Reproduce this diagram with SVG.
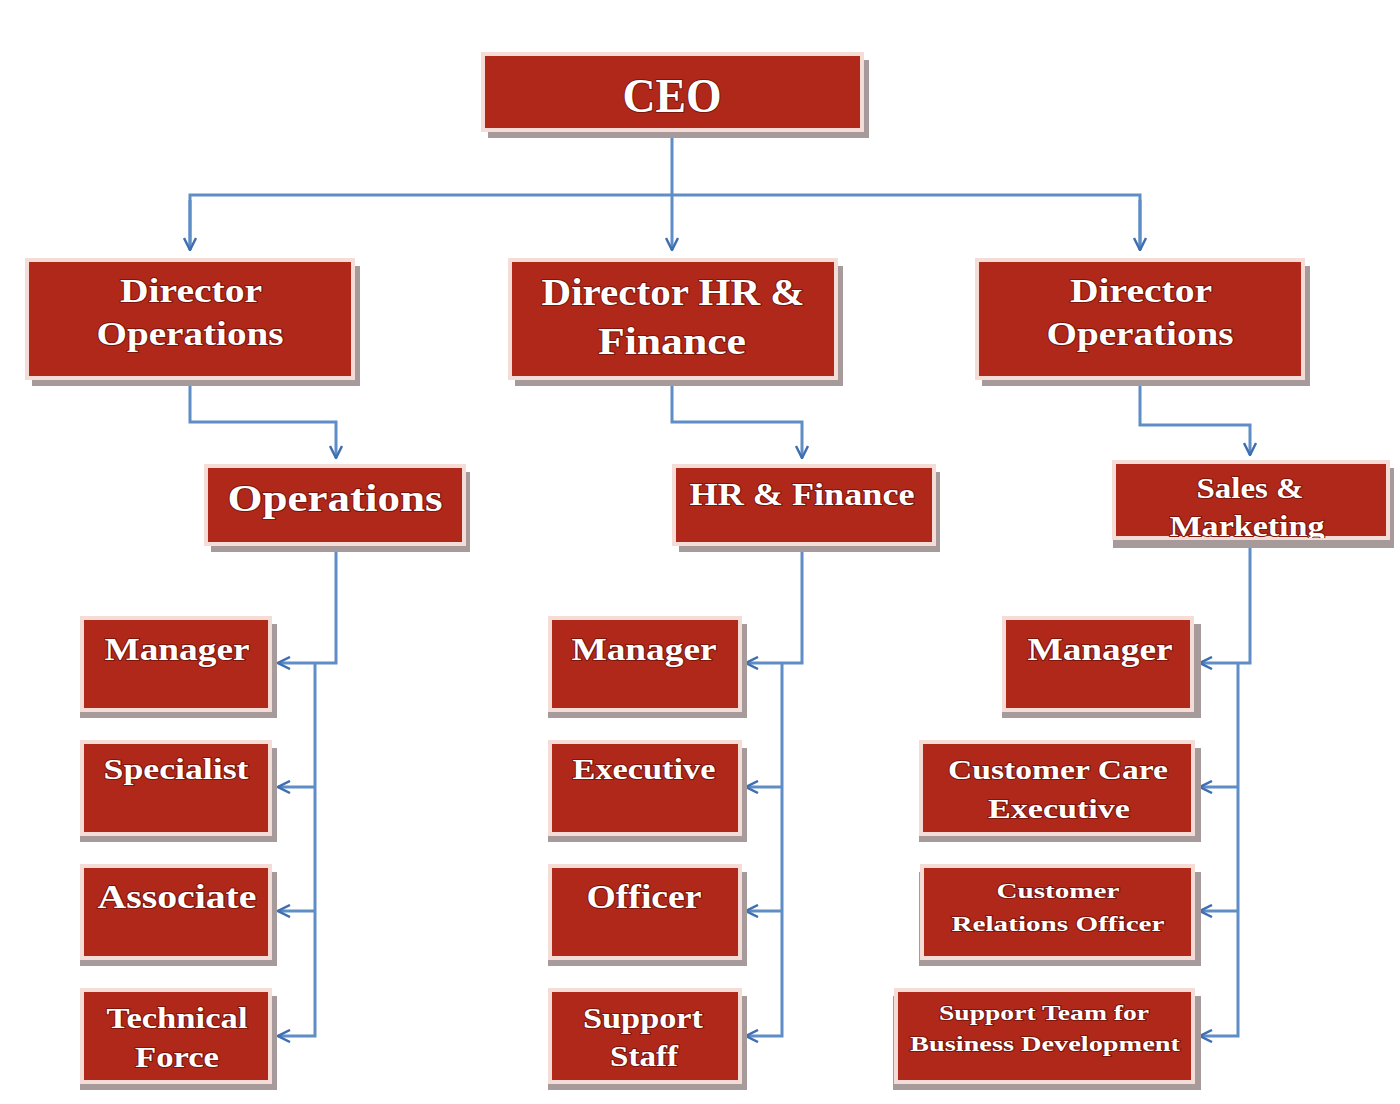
<svg xmlns="http://www.w3.org/2000/svg" width="1400" height="1104" viewBox="0 0 1400 1104">
<defs>
<style>
.sh{fill:#a79a9a;}
.bx{fill:#B0281A;stroke:#f6dcd6;stroke-width:4;}
.t{font-family:"Liberation Serif","DejaVu Serif",serif;font-weight:bold;fill:#ffffff;text-anchor:middle;stroke:#7a160c;stroke-width:2;paint-order:stroke;}
.c{fill:none;stroke:#5f8ec6;stroke-width:3;}
</style>
<marker id="ar" viewBox="0 0 14 14" refX="13" refY="7" markerWidth="14" markerHeight="14" markerUnits="userSpaceOnUse" orient="auto">
<path d="M1,1 L13,7 L1,13" fill="none" stroke="#3f6fb0" stroke-width="2.5"/>
</marker>
<clipPath id="smclip"><rect x="1110" y="458" width="290" height="80"/></clipPath>
</defs>
<rect width="1400" height="1104" fill="#ffffff"/>

<g id="connectors">
<path class="c" d="M672,132 L672,250" marker-end="url(#ar)"/>
<path class="c" d="M190,250 L190,195 L1140,195 L1140,250" />
<path class="c" d="M190,200 L190,250" marker-end="url(#ar)"/>
<path class="c" d="M1140,200 L1140,250" marker-end="url(#ar)"/>
<path class="c" d="M190,380 L190,422 L336,422 L336,458" marker-end="url(#ar)"/>
<path class="c" d="M672,380 L672,422 L802,422 L802,458" marker-end="url(#ar)"/>
<path class="c" d="M1140,380 L1140,425 L1250,425 L1250,455" marker-end="url(#ar)"/>

<path class="c" d="M336,546 L336,663 L278,663" marker-end="url(#ar)"/>
<path class="c" d="M315,663 L315,1036 L278,1036" marker-end="url(#ar)"/>
<path class="c" d="M315,787 L278,787" marker-end="url(#ar)"/>
<path class="c" d="M315,911 L278,911" marker-end="url(#ar)"/>

<path class="c" d="M802,546 L802,663 L746,663" marker-end="url(#ar)"/>
<path class="c" d="M782,663 L782,1036 L746,1036" marker-end="url(#ar)"/>
<path class="c" d="M782,787 L746,787" marker-end="url(#ar)"/>
<path class="c" d="M782,911 L746,911" marker-end="url(#ar)"/>

<path class="c" d="M1250,542 L1250,663 L1200,663" marker-end="url(#ar)"/>
<path class="c" d="M1238,663 L1238,1036 L1200,1036" marker-end="url(#ar)"/>
<path class="c" d="M1238,787 L1200,787" marker-end="url(#ar)"/>
<path class="c" d="M1238,911 L1200,911" marker-end="url(#ar)"/>
</g>

<g id="ceo">
<rect class="sh" x="488" y="60" width="381" height="78"/>
<rect class="bx" x="483" y="54" width="379" height="76"/>
<text class="t" x="672" y="112" font-size="48" textLength="99" lengthAdjust="spacingAndGlyphs">CEO</text>
</g>

<g id="dir-ops-left">
<rect class="sh" x="32" y="266" width="328" height="120"/>
<rect class="bx" x="27" y="260" width="326" height="118"/>
<text class="t" x="191" y="302" font-size="34" textLength="142" lengthAdjust="spacingAndGlyphs">Director</text>
<text class="t" x="190" y="345" font-size="34" textLength="187" lengthAdjust="spacingAndGlyphs">Operations</text>
</g>

<g id="dir-hr">
<rect class="sh" x="515" y="266" width="328" height="120"/>
<rect class="bx" x="510" y="260" width="326" height="118"/>
<text class="t" x="673" y="305" font-size="38" textLength="263" lengthAdjust="spacingAndGlyphs">Director HR &amp;</text>
<text class="t" x="672" y="354" font-size="38" textLength="148" lengthAdjust="spacingAndGlyphs">Finance</text>
</g>

<g id="dir-ops-right">
<rect class="sh" x="982" y="266" width="328" height="120"/>
<rect class="bx" x="977" y="260" width="326" height="118"/>
<text class="t" x="1141" y="302" font-size="34" textLength="142" lengthAdjust="spacingAndGlyphs">Director</text>
<text class="t" x="1140" y="345" font-size="34" textLength="187" lengthAdjust="spacingAndGlyphs">Operations</text>
</g>

<g id="operations">
<rect class="sh" x="211" y="472" width="259" height="80"/>
<rect class="bx" x="206" y="466" width="258" height="78"/>
<text class="t" x="335" y="511" font-size="38" textLength="215" lengthAdjust="spacingAndGlyphs">Operations</text>
</g>

<g id="hr-finance">
<rect class="sh" x="679" y="472" width="261" height="80"/>
<rect class="bx" x="674" y="466" width="260" height="78"/>
<text class="t" x="802" y="505" font-size="32" textLength="225" lengthAdjust="spacingAndGlyphs">HR &amp; Finance</text>
</g>

<g id="sales-marketing">
<rect class="sh" x="1113" y="468" width="281" height="80"/>
<rect class="bx" x="1114" y="462" width="274" height="76"/>
<text class="t" x="1250" y="498" font-size="30" textLength="107" lengthAdjust="spacingAndGlyphs">Sales &amp;</text>
<g clip-path="url(#smclip)"><text class="t" x="1247" y="536" font-size="30" textLength="155" lengthAdjust="spacingAndGlyphs">Marketing</text></g>
</g>

<g id="ops-manager">
<rect class="sh" x="80" y="624" width="197" height="94"/>
<rect class="bx" x="82" y="618" width="188" height="92"/>
<text class="t" x="177" y="660" font-size="32" textLength="145" lengthAdjust="spacingAndGlyphs">Manager</text>
</g>
<g id="ops-specialist">
<rect class="sh" x="80" y="748" width="197" height="94"/>
<rect class="bx" x="82" y="742" width="188" height="92"/>
<text class="t" x="176" y="779" font-size="29" textLength="145" lengthAdjust="spacingAndGlyphs">Specialist</text>
</g>
<g id="ops-associate">
<rect class="sh" x="80" y="872" width="197" height="94"/>
<rect class="bx" x="82" y="866" width="188" height="92"/>
<text class="t" x="177" y="908" font-size="33" textLength="159" lengthAdjust="spacingAndGlyphs">Associate</text>
</g>
<g id="ops-technical">
<rect class="sh" x="80" y="996" width="197" height="94"/>
<rect class="bx" x="82" y="990" width="188" height="92"/>
<text class="t" x="177" y="1028" font-size="30" textLength="141" lengthAdjust="spacingAndGlyphs">Technical</text>
<text class="t" x="177" y="1067" font-size="30" textLength="84" lengthAdjust="spacingAndGlyphs">Force</text>
</g>

<g id="hr-manager">
<rect class="sh" x="548" y="624" width="199" height="94"/>
<rect class="bx" x="550" y="618" width="190" height="92"/>
<text class="t" x="644" y="660" font-size="32" textLength="145" lengthAdjust="spacingAndGlyphs">Manager</text>
</g>
<g id="hr-executive">
<rect class="sh" x="548" y="748" width="199" height="94"/>
<rect class="bx" x="550" y="742" width="190" height="92"/>
<text class="t" x="644" y="779" font-size="29" textLength="143" lengthAdjust="spacingAndGlyphs">Executive</text>
</g>
<g id="hr-officer">
<rect class="sh" x="548" y="872" width="199" height="94"/>
<rect class="bx" x="550" y="866" width="190" height="92"/>
<text class="t" x="644" y="908" font-size="33" textLength="115" lengthAdjust="spacingAndGlyphs">Officer</text>
</g>
<g id="hr-support">
<rect class="sh" x="548" y="996" width="199" height="94"/>
<rect class="bx" x="550" y="990" width="190" height="92"/>
<text class="t" x="643" y="1028" font-size="30" textLength="120" lengthAdjust="spacingAndGlyphs">Support</text>
<text class="t" x="644" y="1066" font-size="30" textLength="68" lengthAdjust="spacingAndGlyphs">Staff</text>
</g>

<g id="sm-manager">
<rect class="sh" x="1002" y="624" width="199" height="94"/>
<rect class="bx" x="1004" y="618" width="188" height="92"/>
<text class="t" x="1100" y="660" font-size="32" textLength="145" lengthAdjust="spacingAndGlyphs">Manager</text>
</g>
<g id="sm-care">
<rect class="sh" x="919" y="748" width="282" height="94"/>
<rect class="bx" x="921" y="742" width="272" height="92"/>
<text class="t" x="1058" y="779" font-size="28" textLength="220" lengthAdjust="spacingAndGlyphs">Customer Care</text>
<text class="t" x="1059" y="818" font-size="28" textLength="142" lengthAdjust="spacingAndGlyphs">Executive</text>
</g>
<g id="sm-relations">
<rect class="sh" x="919" y="872" width="282" height="94"/>
<rect class="bx" x="922" y="866" width="271" height="92"/>
<text class="t" x="1058" y="898" font-size="22" textLength="123" lengthAdjust="spacingAndGlyphs">Customer</text>
<text class="t" x="1058" y="931" font-size="22" textLength="213" lengthAdjust="spacingAndGlyphs">Relations Officer</text>
</g>
<g id="sm-support">
<rect class="sh" x="893" y="996" width="308" height="94"/>
<rect class="bx" x="896" y="990" width="297" height="92"/>
<text class="t" x="1044" y="1020" font-size="22" textLength="210" lengthAdjust="spacingAndGlyphs">Support Team for</text>
<text class="t" x="1045" y="1051" font-size="22" textLength="270" lengthAdjust="spacingAndGlyphs">Business Development</text>
</g>
</svg>
